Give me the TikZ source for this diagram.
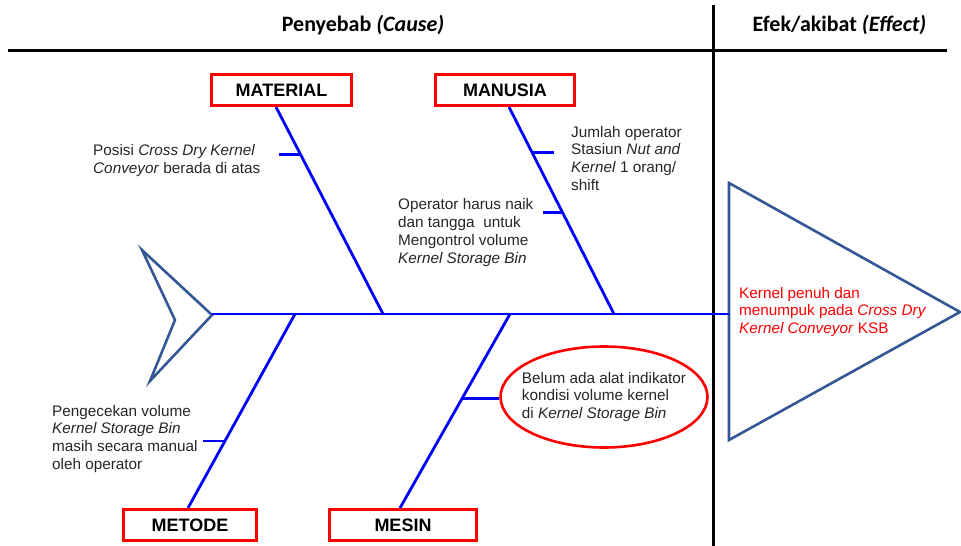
\documentclass[tikz,border=0pt]{standalone}
\usepackage{fontspec}
\setmainfont{Liberation Sans}
\newfontfamily\hdrfont{Carlito}
\usetikzlibrary{shapes.geometric,calc}
\definecolor{bonecol}{RGB}{0,0,255}
\definecolor{fishcol}{RGB}{52,88,150}

\begin{document}
\begin{tikzpicture}[x=1pt, y=-1pt, font=\fontsize{15.3}{17.8}\selectfont, text=black!85,
  bone/.style={draw=bonecol, line width=2.8pt},
  catbox/.style={draw=red, line width=3pt, inner sep=0pt, minimum height=31pt,
    font=\fontsize{18}{20}\selectfont\bfseries, text=black},
  cause/.style={align=left, anchor=base west, inner sep=0pt},
  fish/.style={draw=fishcol, line width=2.6pt, line join=miter},
  hdr/.style={font=\hdrfont\fontsize{22}{24}\selectfont\bfseries, text=black, anchor=base}]
  \useasboundingbox (0,0) rectangle (961,546);

  % header and frame
  \node[hdr] (cause) at (363,31) {Penyebab \textit{(Cause)}};
  \node[hdr] (effect) at (839.5,31) {Efek/akibat \textit{(Effect)}};
  \draw[line width=3pt] (8,50) -- (947,50);
  \draw[line width=3pt] (713,5) -- (713,546);

  % tail, head and spine
  \draw[fish] (142,250) -- (212,315) -- (150,381) -- (175,320) -- cycle;
  \draw[fish] (729,183) -- (960,312) -- (729,440) -- cycle;
  \coordinate (tail) at (212,314);
  \coordinate (head) at (729,314);
  \draw[bone] (tail) -- (head);
  \coordinate (jMetode) at (295,314);
  \coordinate (jMaterial) at (383,314);
  \coordinate (jMesin) at (510,314);
  \coordinate (jManusia) at (614,314);

  % categories
  \node[catbox, minimum width=140pt] (material) at (281.5,90) {MATERIAL};
  \node[catbox, minimum width=139pt] (manusia) at (505,90) {MANUSIA};
  \node[catbox, minimum width=133pt] (metode) at (190,525) {METODE};
  \node[catbox, minimum width=147pt] (mesin) at (403,525) {MESIN};

  \draw[bone] ([xshift=-5.5pt]material.south) coordinate (matTop) -- (jMaterial);
  \draw[bone] ([xshift=4pt]manusia.south) coordinate (manTop) -- (jManusia);
  \draw[bone] ([xshift=-2pt]metode.north) coordinate (metBot) -- (jMetode);
  \draw[bone] ([xshift=-3pt]mesin.north) coordinate (mesBot) -- (jMesin);

  % sub causes
  \coordinate (matT1) at ($(matTop)!0.23!(jMaterial)$);
  \coordinate (manT1) at ($(manTop)!0.218!(jManusia)$);
  \coordinate (manT2) at ($(manTop)!0.511!(jManusia)$);
  \coordinate (metT1) at ($(jMetode)!0.655!(metBot)$);
  \coordinate (mesT1) at ($(jMesin)!0.435!(mesBot)$);
  \draw[bone] (matT1) -- ++(-22,0);
  \draw[bone] (manT1) -- ++(22,0);
  \draw[bone] (manT2) -- ++(-20,0);
  \draw[bone] (metT1) -- ++(-22,0);

  \node[ellipse, draw=red, line width=2.6pt, minimum width=207pt, minimum height=101pt,
    inner xsep=-9pt, inner ysep=0pt, align=left] (cond) at (604,397)
    {Belum ada alat indikator\\kondisi volume kernel\\di \textit{Kernel Storage Bin}};
  \draw[bone] (mesT1) -- (mesT1 -| cond.west);

  \node[cause] (matNote) at (93,173) {Posisi \textit{Cross Dry Kernel}\\\textit{Conveyor} berada di atas};
  \node[cause] (manNote1) at (571,190.4) {Jumlah operator\\Stasiun \textit{Nut and}\\\textit{Kernel} 1 orang/\\shift};
  \node[cause] (manNote2) at (398,263) {Operator harus naik\\dan tangga\ \ untuk\\Mengontrol volume\\\textit{Kernel Storage Bin}};
  \node[cause] (metNote) at (52,469.4) {Pengecekan volume\\\textit{Kernel Storage Bin}\\masih secara manual\\oleh operator};
  \node[cause, text=red] (effNote) at (739,333.6) {Kernel penuh dan\\menumpuk pada \textit{Cross Dry}\\\textit{Kernel Conveyor} KSB};
\end{tikzpicture}
\end{document}
